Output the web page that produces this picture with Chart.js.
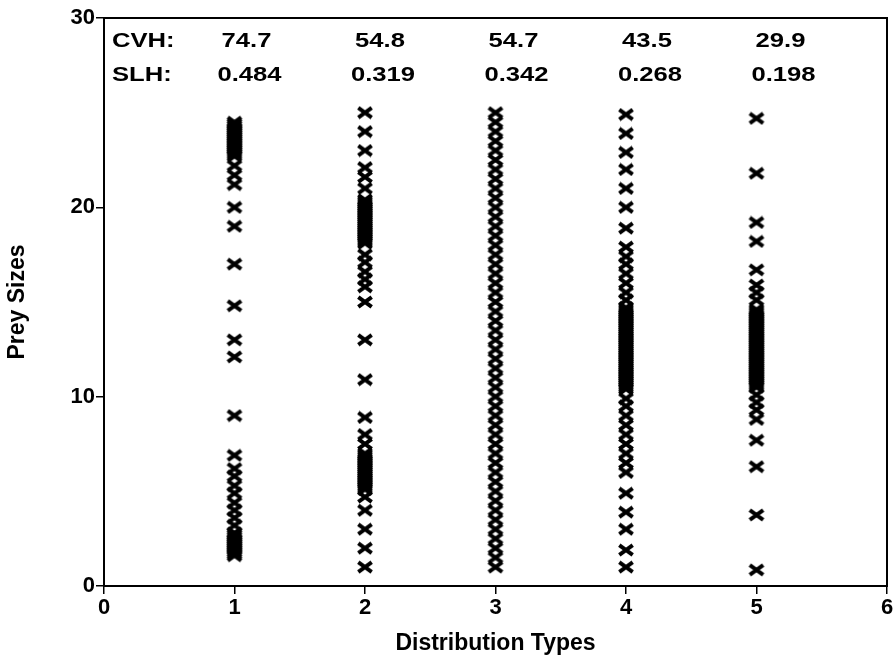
<!DOCTYPE html>
<html><head><meta charset="utf-8">
<script src="https://cdn.jsdelivr.net/npm/chart.js@4/dist/chart.umd.min.js"></script>
<style>html,body{margin:0;padding:0;background:#fff;} canvas{display:block;}</style>
</head><body>
<canvas id="c" width="895" height="660"></canvas>
<script>
// ---------- data ----------
const distributionTypes = [1, 2, 3, 4, 5];
const xTickValues = [0, 1, 2, 3, 4, 5, 6];
const yTickValues = [0, 10, 20, 30];
const cvhLabels = ['74.7', '54.8', '54.7', '43.5', '29.9'];
const slhLabels = ['0.484', '0.319', '0.342', '0.268', '0.198'];

const preySizes1 = [
  24.5, 24.4, 24.3, 24.2, 24.1, 24.0, 23.9, 23.8, 23.7, 23.6, 23.5, 23.4, 23.3, 23.2, 23.1, 23.0, 22.9, 22.8, 22.7,
  22.2, 21.7, 21.2, 20.0, 19.0, 17.0, 14.8, 13.0, 12.1, 9.0, 6.9,
  6.2, 5.8, 5.3, 4.9, 4.4, 4.0, 3.6, 3.2,
  2.8, 2.7, 2.6, 2.5, 2.4, 2.3, 2.2, 2.1, 2.0, 1.9, 1.8, 1.7, 1.6
];
const preySizes2 = [
  25.0, 24.0, 23.0, 22.1, 21.6, 21.0,
  20.4, 20.3, 20.2, 20.1, 20.0, 19.9, 19.8, 19.7, 19.6, 19.5, 19.4, 19.3, 19.2, 19.1, 19.0,
  18.9, 18.8, 18.7, 18.6, 18.5, 18.4, 18.3, 18.2, 18.1,
  17.5, 17.1, 16.6, 16.2, 15.8, 15.0, 13.0, 10.9, 8.9, 8.0, 7.5,
  7.0, 6.9, 6.8, 6.7, 6.6, 6.5, 6.4, 6.3, 6.2, 6.1, 6.0, 5.9, 5.8, 5.7, 5.6, 5.5, 5.4, 5.3, 5.2, 5.1,
  4.7, 4.0, 3.0, 2.0, 1.0
];
const preySizes3 = [
  25.0, 24.5, 24.0, 23.5, 23.0, 22.5, 22.0, 21.5, 21.0, 20.5, 20.0, 19.5, 19.0, 18.5, 18.0, 17.5, 17.0,
  16.5, 16.0, 15.5, 15.0, 14.5, 14.0, 13.5, 13.0, 12.5, 12.0, 11.5, 11.0, 10.5, 10.0, 9.5, 9.0,
  8.5, 8.0, 7.5, 7.0, 6.5, 6.0, 5.5, 5.0, 4.5, 4.0, 3.5, 3.0, 2.5, 2.0, 1.5, 1.0
];
const preySizes4 = [
  24.9, 23.9, 22.9, 22.0, 21.0, 20.0, 18.9, 17.9, 17.4, 17.0, 16.5, 16.0, 15.5, 15.1,
  14.7, 14.6, 14.5, 14.4, 14.3, 14.2, 14.1, 14.0, 13.9, 13.8, 13.7, 13.6, 13.5, 13.4, 13.3, 13.2, 13.1, 13.0,
  12.9, 12.8, 12.7, 12.6, 12.5, 12.4, 12.3, 12.2, 12.1, 12.0, 11.9, 11.8, 11.7, 11.6, 11.5, 11.4, 11.3, 11.2,
  11.1, 11.0, 10.9, 10.8, 10.7, 10.6, 10.5, 10.4,
  9.9, 9.5, 9.0, 8.5, 8.0, 7.5, 7.0, 6.5, 6.0, 4.9, 3.9, 3.0, 1.9, 1.0
];
const preySizes5 = [
  24.7, 21.8, 19.2, 18.2, 16.7, 15.9, 15.5, 15.1,
  14.6, 14.5, 14.4, 14.3, 14.2, 14.1, 14.0, 13.9, 13.8, 13.7, 13.6, 13.5, 13.4, 13.3, 13.2, 13.1, 13.0,
  12.9, 12.8, 12.7, 12.6, 12.5, 12.4, 12.3, 12.2, 12.1, 12.0, 11.9, 11.8, 11.7, 11.6, 11.5, 11.4, 11.3, 11.2,
  11.1, 11.0, 10.9, 10.8, 10.7, 10.6, 10.5,
  10.1, 9.7, 9.3, 8.8, 7.7, 6.3, 3.75, 0.85
];
const seriesValues = [preySizes1, preySizes2, preySizes3, preySizes4, preySizes5];

// ---------- marker ----------
const mark = document.createElement('canvas');
mark.width = 18; mark.height = 14;
(function () {
  const g = mark.getContext('2d');
  g.strokeStyle = '#000';
  g.lineWidth = 4;
  g.beginPath();
  g.moveTo(2.3, 2.2); g.lineTo(15.7, 11.8);
  g.moveTo(15.7, 2.2); g.lineTo(2.3, 11.8);
  g.stroke();
})();

const datasets = distributionTypes.map((t, i) => ({
  label: 'Type ' + t,
  data: seriesValues[i].map(v => ({ x: t, y: v })),
  pointStyle: mark,
  pointRadius: 7,
  borderColor: '#000',
  backgroundColor: '#000',
  showLine: false
}));

const frameAndText = {
  id: 'frameAndText',
  afterDatasetsDraw(chart) {
    const { ctx, chartArea: a, scales } = chart;
    ctx.save();
    ctx.strokeStyle = '#000';
    ctx.lineWidth = 2;
    ctx.strokeRect(a.left, a.top, a.right - a.left, a.bottom - a.top);
    ctx.fillStyle = '#000';
    ctx.font = "bold 21px 'Liberation Sans', Arial, sans-serif";
    ctx.textBaseline = 'middle';
    const sx = 1.22;
    const drawStretched = (txt, x, y, align) => {
      ctx.save();
      ctx.translate(x, y);
      ctx.scale(sx, 1);
      ctx.textAlign = align;
      ctx.fillText(txt, 0, 0);
      ctx.restore();
    };
    const yC = scales.y.getPixelForValue(28.8);
    const yS = scales.y.getPixelForValue(27.0);
    drawStretched('CVH:', a.left + 8, yC, 'left');
    drawStretched('SLH:', a.left + 8, yS, 'left');
    distributionTypes.forEach((t, i) => {
      const x = scales.x.getPixelForValue(t) + 12 + i * 3;
      drawStretched(cvhLabels[i], x, yC, 'center');
      drawStretched(slhLabels[i], x + 3, yS, 'center');
    });
    ctx.restore();
  }
};

const tickFont = { family: "'Liberation Sans', Arial, sans-serif", size: 22, weight: 'bold' };
const titleFont = { family: "'Liberation Sans', Arial, sans-serif", size: 23, weight: 'bold' };

new Chart(document.getElementById('c'), {
  type: 'scatter',
  data: { datasets },
  options: {
    responsive: false,
    animation: false,
    devicePixelRatio: 1,
    layout: { padding: { left: 0, right: 5, top: 18, bottom: 0 } },
    plugins: { legend: { display: false }, tooltip: { enabled: false } },
    scales: {
      x: {
        type: 'linear', min: 0, max: 6,
        afterBuildTicks(s) { s.ticks = xTickValues.map(v => ({ value: v })); },
        afterFit(s) { s.height = 74; },
        ticks: { color: '#000', font: tickFont, padding: 1, maxRotation: 0 },
        grid: { drawOnChartArea: false, drawTicks: true, tickLength: 8, color: '#000', lineWidth: 1.5 },
        border: { display: false },
        title: { display: true, text: 'Distribution Types', color: '#000', font: titleFont, padding: { top: 0, bottom: 3 } }
      },
      y: {
        type: 'linear', min: 0, max: 30,
        afterBuildTicks(s) { s.ticks = yTickValues.map(v => ({ value: v })); },
        afterFit(s) { s.width = 104; },
        ticks: { color: '#000', font: tickFont, padding: 1 },
        grid: { drawOnChartArea: false, drawTicks: true, tickLength: 8, color: '#000', lineWidth: 1.5 },
        border: { display: false },
        title: { display: true, text: 'Prey Sizes', color: '#000', font: titleFont, padding: { top: 4, bottom: 0 } }
      }
    }
  },
  plugins: [frameAndText]
});
</script>
</body></html>
